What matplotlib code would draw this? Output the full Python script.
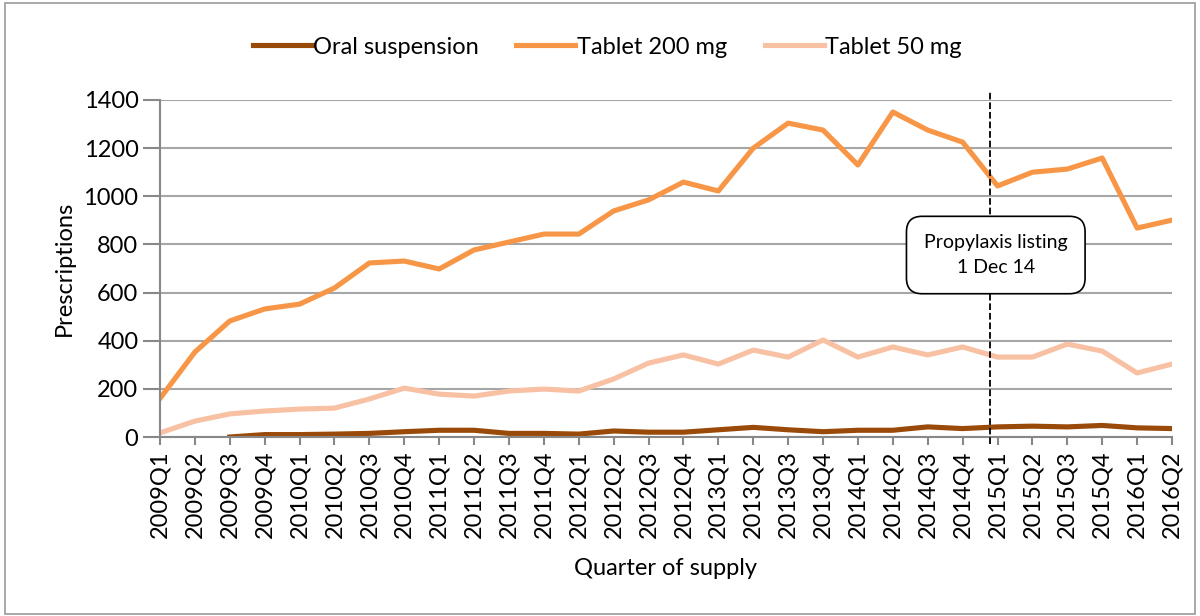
import matplotlib.pyplot as plt
from matplotlib.patches import Rectangle

plt.rcParams['font.family'] = ['Lato', 'DejaVu Sans']

quarters = [f'{y}Q{q}' for y in range(2009, 2017) for q in range(1, 5)][:30]

tablet_200 = [160, 353, 482, 532, 552, 619, 723, 731, 698, 777,
              810, 843, 843, 939, 985, 1059, 1022, 1200, 1304, 1275,
              1130, 1350, 1275, 1225, 1043, 1100, 1113, 1159, 868, 901]
tablet_50 = [17, 66, 96, 108, 116, 120, 158, 203, 178, 170,
             191, 199, 191, 241, 307, 341, 303, 361, 332, 403,
             332, 374, 341, 374, 332, 332, 386, 357, 266, 303]
# oral suspension starts in 2009Q3
oral = [None, None, 0, 10, 10, 12, 15, 22, 28, 28,
        15, 15, 12, 25, 20, 20, 30, 40, 30, 22,
        28, 28, 42, 35, 42, 45, 42, 48, 38, 35]

listing_pos = 23.78  # 1 Dec 14, just before 2015Q1

fig = plt.figure(figsize=(12, 6.16), dpi=100)
ax = fig.add_axes([160 / 1200, 1 - 437 / 616, 1012 / 1200, 337 / 616])

x = list(range(len(quarters)))
ox = [i for i, v in zip(x, oral) if v is not None]
oy = [v for v in oral if v is not None]
ax.plot(ox, oy, color='#9A4A08', lw=3.7, label='Oral suspension')
ax.plot(x, tablet_200, color='#F79646', lw=3.7, label='Tablet 200 mg')
ax.plot(x, tablet_50, color='#F8C1A4', lw=3.7, label='Tablet 50 mg')

ax.set_xlim(0, len(quarters) - 1)
ax.set_ylim(0, 1400)
ax.set_yticks(range(0, 1401, 200))
ax.set_xticks(x)
ax.set_xticklabels(quarters, rotation=90, fontsize=17)
ax.tick_params(axis='y', labelsize=17, length=12, color='#888888', width=1.5)
ax.tick_params(axis='x', length=6, color='#888888', width=1.5)
ax.grid(axis='y', color='#A6A6A6', lw=1.5)
ax.set_axisbelow(True)
for s in ['top', 'right']:
    ax.spines[s].set_visible(False)
for s in ['left', 'bottom']:
    ax.spines[s].set_color('#888888')
    ax.spines[s].set_linewidth(1.5)

ax.set_ylabel('Prescriptions', fontsize=17, labelpad=6)
ax.set_xlabel('Quarter of supply', fontsize=17, labelpad=14)

ax.plot([listing_pos, listing_pos], [-30, 1440], color='black', ls='--', lw=1.3,
        clip_on=False, zorder=5)
ax.text(23.95, 756, 'Propylaxis listing\n1 Dec 14', ha='center', va='center',
        fontsize=14, linespacing=1.6, zorder=6,
        bbox=dict(boxstyle='round,pad=0.9,rounding_size=0.8', fc='white', ec='black', lw=1.2))

leg = ax.legend(loc='center', bbox_to_anchor=(607 / 1200, 1 - 47 / 616),
                bbox_transform=fig.transFigure, ncol=3, frameon=False,
                fontsize=17, handlelength=2.5, handletextpad=0.05, columnspacing=1.6)

fig.patches.append(Rectangle((0.004, 0.003), 0.992, 0.992, transform=fig.transFigure,
                             fill=False, ec='#999999', lw=1.2))

fig.savefig('out.png', dpi=100)
